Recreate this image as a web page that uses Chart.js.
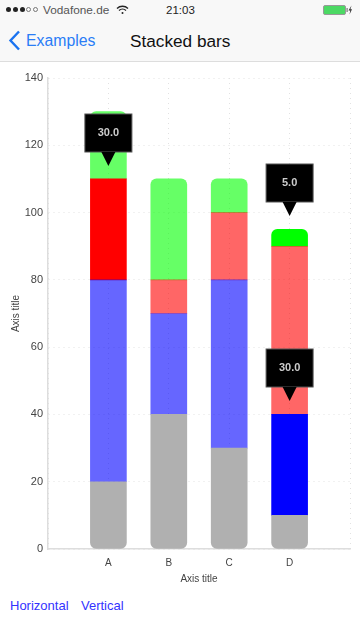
<!DOCTYPE html>
<html>
<head>
<meta charset="utf-8">
<title>Stacked bars</title>
<script src="https://cdn.jsdelivr.net/npm/chart.js@4"></script>
<style>
    html, body { margin: 0; padding: 0; background: #fff; font-family: "Liberation Sans", sans-serif; }
    #page { position: relative; width: 360px; height: 640px; overflow: hidden; }
    #bar { position: absolute; left: 0; top: 0; width: 360px; height: 62px; background: #f8f8f8; border-bottom: 1px solid #ddd; box-sizing: border-box; }
    #bar span, #bar svg, #bar i { position: absolute; }
    .dot { width: 5px; height: 5px; border-radius: 50%; top: 7px; background: #222; box-sizing: border-box; }
    .dot.off { background: none; border: 1px solid #777; }
    #carrier { left: 43px; top: 3px; font-size: 11.8px; line-height: 14px; color: #555; }
    #clock { left: 166px; top: 3px; font-size: 11.5px; line-height: 14px; color: #222; }
    #back { left: 26px; top: 31px; font-size: 15.8px; line-height: 20px; color: #2a7df6; }
    #title { left: 130px; top: 31px; font-size: 17.2px; line-height: 20px; color: #111; }
    #wrap { position: absolute; left: 0; top: 63px; width: 360px; height: 530px; }
    .link { position: absolute; top: 598px; font-size: 13px; line-height: 16px; color: #3333ff; }
</style>
</head>
<body>
<div id="page">
    <div id="bar">
        <i class="dot" style="left:6px"></i><i class="dot" style="left:13px"></i><i class="dot" style="left:20px"></i>
        <i class="dot off" style="left:26px"></i><i class="dot off" style="left:33px"></i>
        <span id="carrier">Vodafone.de</span>
        <svg style="left:116px;top:5px" width="13" height="10" viewBox="0 0 13 10" fill="none" stroke="#222" stroke-width="1.3">
            <path d="M1 3.5C4 .5 9 .5 12 3.5M3 5.5C5 3.7 8 3.7 10 5.5"/><circle cx="6.5" cy="8" r="1" fill="#222" stroke="none"/>
        </svg>
        <span id="clock">21:03</span>
        <svg style="left:323px;top:5px" width="30" height="10" viewBox="0 0 30 10">
            <rect x=".5" y=".5" width="22" height="9" rx="1.5" fill="#4cd964" stroke="#999"/>
            <rect x="23.5" y="3" width="1.2" height="4" fill="#777"/>
            <path d="M29.5 0.5 L26.5 5.5 H28.3 L27.5 9.5 L30 4.2 H28.4 Z" fill="#333" transform="translate(-1 0)"/>
        </svg>
        <svg style="left:8px;top:30px" width="13" height="21" viewBox="0 0 13 21" fill="none" stroke="#1a73f0" stroke-width="2.4">
            <path d="M11 1.5 L2.5 10.5 L11 19.5"/>
        </svg>
        <span id="back">Examples</span>
        <span id="title">Stacked bars</span>
    </div>
    <div id="wrap"><canvas id="chart"></canvas></div>
    <span class="link" style="left:10px">Horizontal</span>
    <span class="link" style="left:81px">Vertical</span>
</div>
<script>
// blank first and last category keep the gap at both ends of the x axis
const categories = ['', 'A', 'B', 'C', 'D', ''];
const greySeries = [null, 20, 40, 30, 10, null];
const blueSeries = [null, 60, 30, 50, 30, null];
const redSeries = [null, 30, 10, 20, 50, null];
const greenSeries = [null, 20, 30, 10, 5, null];
const yTicks = [0, 20, 40, 60, 80, 100, 120, 140];
const axisTitle = 'Axis title';

// highlighted segments, [dataset index, category index]
const selected = [[2, 1], [1, 4], [3, 4]];

function isSelected(ds, i) {
    return selected.some(function (s) { return s[0] === ds && s[1] === i; });
}

function barColors(ds, base) {
    return categories.map(function (c, i) {
        return 'rgba(' + base + ',' + (isSelected(ds, i) ? 1 : 0.6) + ')';
    });
}

// callouts over the selected segments
const calloutPlugin = {
    id: 'callouts',
    afterDatasetsDraw: function (chart) {
        const ctx = chart.ctx;
        selected.forEach(function (s) {
            const el = chart.getDatasetMeta(s[0]).data[s[1]];
            const tipY = Math.round(el.y) - 13;
            const x = el.x;
            const boxBottom = tipY - 14;
            const boxTop = boxBottom - 38;
            ctx.save();
            ctx.fillStyle = '#000';
            ctx.strokeStyle = '#555';
            ctx.lineWidth = 1;
            ctx.fillRect(x - 23.5, boxTop, 47, 38);
            ctx.strokeRect(x - 23.5, boxTop, 47, 38);
            ctx.beginPath();
            ctx.moveTo(x - 7, boxBottom);
            ctx.lineTo(x + 7, boxBottom);
            ctx.lineTo(x, tipY);
            ctx.closePath();
            ctx.fill();
            ctx.fillStyle = '#ccc';
            ctx.font = 'bold 11px "Liberation Sans"';
            ctx.textAlign = 'center';
            ctx.textBaseline = 'middle';
            ctx.fillText(chart.data.datasets[s[0]].data[s[1]].toFixed(1), x, boxTop + 19);
            ctx.restore();
        });
    }
};

const gridColor = '#e2e2e2';
const textColor = '#444';

new Chart(document.getElementById('chart'), {
    type: 'bar',
    data: {
        labels: categories,
        datasets: [
            { data: greySeries, backgroundColor: 'rgb(176,176,176)', borderRadius: { bottomLeft: 6, bottomRight: 6 } },
            { data: blueSeries, backgroundColor: barColors(1, '0,0,255') },
            { data: redSeries, backgroundColor: barColors(2, '255,0,0') },
            { data: greenSeries, backgroundColor: barColors(3, '0,255,0'), borderRadius: { topLeft: 6, topRight: 6 } }
        ]
    },
    options: {
        responsive: true,
        maintainAspectRatio: false,
        animation: false,
        layout: { padding: { top: 15, right: 10 } },
        datasets: { bar: { barThickness: 36, borderSkipped: false } },
        plugins: { legend: { display: false }, tooltip: { enabled: false } },
        scales: {
            x: {
                stacked: true,
                offset: false,
                afterFit: function (scale) { scale.height = 44; },
                grid: { color: gridColor, drawTicks: false, offset: false },
                border: { color: '#ddd', width: 1.5, dash: [1, 4] },
                ticks: { color: textColor, font: { size: 10, family: 'Liberation Sans' }, padding: 8, maxRotation: 0 },
                title: { display: true, text: axisTitle, color: textColor, font: { size: 10, family: 'Liberation Sans' }, padding: { top: 5, bottom: 8 } }
            },
            y: {
                stacked: true,
                min: 0,
                max: 140,
                afterFit: function (scale) { scale.width = 48; },
                afterBuildTicks: function (scale) { scale.ticks = yTicks.map(function (v) { return { value: v }; }); },
                grid: { color: gridColor, drawTicks: false },
                border: { color: '#ddd', width: 1.5, dash: [1, 4] },
                ticks: { color: textColor, font: { size: 11, family: 'Liberation Sans' }, padding: 5 },
                title: { display: true, text: axisTitle, color: textColor, font: { size: 10, family: 'Liberation Sans' }, padding: { top: 10, bottom: 0 } }
            }
        }
    },
    plugins: [calloutPlugin]
});
</script>
</body>
</html>
